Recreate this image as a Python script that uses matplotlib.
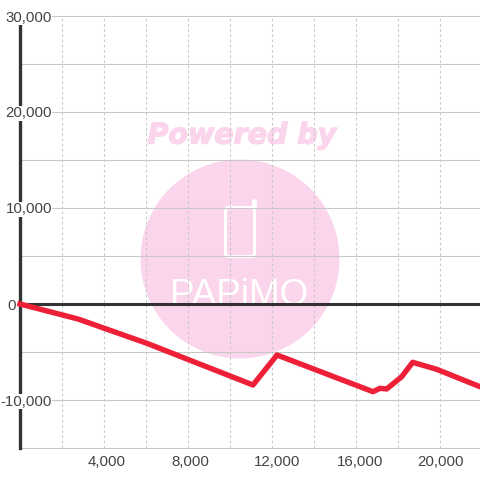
import matplotlib
matplotlib.use("Agg")
import matplotlib.pyplot as plt
import matplotlib.patheffects as pe
from matplotlib.patches import Circle, FancyBboxPatch

# values
x_values = [0, 2762, 6048, 11095, 12238, 16810, 17143, 17460, 18176, 18700, 19842, 21905]
y_values = [0, -1562, -4100, -8437, -5312, -9135, -8781, -8854, -7573, -6073, -6802, -8615]
x_ticks = [4000, 8000, 12000, 16000, 20000]
x_grid = [2000, 4000, 6000, 8000, 10000, 12000, 14000, 16000, 18000, 20000]
y_ticks = [30000, 20000, 10000, 0, -10000]
y_grid = [30000, 25000, 20000, 15000, 10000, 5000, -5000, -10000, -15000]

# the x labels are not quite centred on their ticks in the original (pixels)
x_label_shift = [2.5, 2.5, 5.5, 4.5, 0.5]

plt.rcParams["font.family"] = ["Liberation Sans", "DejaVu Sans"]

fig = plt.figure(figsize=(4.8, 4.8), dpi=100)

# watermark goes on its own axes in pixel coordinates, below the chart
wm = fig.add_axes([0, 0, 1, 1], zorder=0)
wm.set_xlim(0, 480)
wm.set_ylim(480, 0)
wm.axis("off")
pink = "#fbd5ec"
wm.add_patch(Circle((240, 259), 99.5, color=pink, lw=0))
wm.text(242, 135.5, "Powered by", color=pink, fontsize=20.5, fontweight="bold",
        fontstyle="italic", family="DejaVu Sans", ha="center", va="center",
        path_effects=[pe.withStroke(linewidth=1.0, foreground=pink)])
wm.add_patch(FancyBboxPatch((225.5, 207.5), 29, 49, boxstyle="round,pad=0,rounding_size=3",
                            fc="none", ec="white", lw=2.2))
wm.plot([254, 254], [207, 201], color="white", lw=3.5, solid_capstyle="round")
wm.text(239.5, 305, "PAPiMO", color="white", fontsize=26.5, family="Liberation Sans",
        ha="center", va="baseline")

ax = fig.add_axes([20 / 480, 32 / 480, 460 / 480, 432 / 480], zorder=1)
ax.patch.set_alpha(0)
ax.set_xlim(0, 21905)
ax.set_ylim(-15000, 30000)
for s in ax.spines.values():
    s.set_visible(False)
ax.set_xticks([])
ax.set_yticks([])

# grid
for v in x_grid:
    ax.axvline(v, color="#c8c8c8", lw=0.75, ls=(0, (2.5, 2.5)), zorder=1)
for v in y_grid:
    ax.axhline(v, color="#c8c8c8", lw=0.75, zorder=1, clip_on=False)

# axes lines
ax.axhline(0, color="#333333", lw=2.2, zorder=2)
ax.axvline(0, color="#333333", lw=2.4, zorder=2, clip_on=False)

# tick labels, the 0 sits left of the axis line
for v in y_ticks:
    dx = -4 if v == 0 else 32
    ax.annotate(format(v, ","), (0, v), xytext=(dx, -1.5), textcoords="offset pixels", ha="right",
                va="center", fontsize=10.8, color="#444444", annotation_clip=False, zorder=3,
                bbox=dict(fc="white", ec="none", pad=0.3))
for v, shift in zip(x_ticks, x_label_shift):
    ax.annotate(format(v, ","), (v, -15000), xytext=(shift, -14), textcoords="offset pixels",
                ha="center", va="center", fontsize=10.8, color="#444444", annotation_clip=False)

# the series
ax.plot(x_values, y_values, color="#ee2038", lw=3.9, zorder=4, solid_joinstyle="round",
        clip_on=False)

fig.savefig("out.png", dpi=100)
